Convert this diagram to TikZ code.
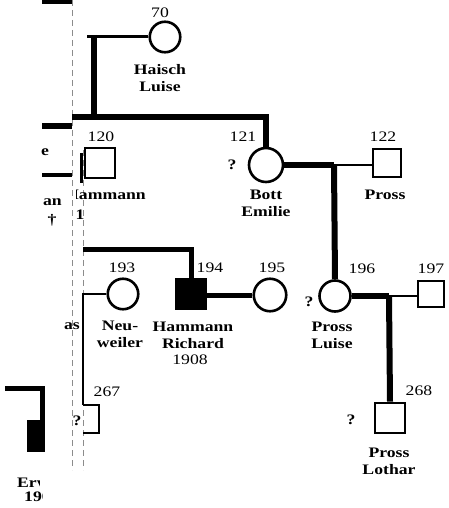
\documentclass[tikz,border=0pt]{standalone}
\usepackage{fontspec}
\setmainfont[FakeStretch=1.22]{Liberation Serif}
\begin{document}
\begin{tikzpicture}[x=1pt,y=-1pt,line join=miter,
  fem/.style={circle,draw,line width=2.6pt,inner sep=0pt},
  mal/.style={rectangle,draw,line width=2.4pt,inner sep=0pt},
  thk/.style={line width=6pt},
  mid/.style={line width=3pt},
  thn/.style={line width=2pt},
  fold/.style={line width=0.5pt,dash pattern=on 6pt off 4pt,black!45},
  num/.style={font=\fontsize{14.5}{16}\selectfont,inner sep=0pt},
  nm/.style={font=\fontsize{14.5}{17}\selectfont\bfseries,align=center,inner sep=0pt}]
\useasboundingbox (0,0) rectangle (448,508);
\clip (0,0) rectangle (448,508);
% fold lines of the scan
\draw[fold] (72,0) -- (72,470);
\draw[fold] (83,150) -- (83,470);
% individuals
\node[fem,minimum size=30.5pt] (c70) at (165,37) {};
\node[mal,minimum size=29.5pt] (s120) at (100,163) {};
\node[fem,minimum size=34pt] (c121) at (266,165) {};
\node[mal,minimum size=28.5pt] (s122) at (387,163) {};
\node[fem,minimum size=30.5pt] (c193) at (123,294) {};
\node[mal,fill=black,minimum size=30.5pt] (s194) at (191,294) {};
\node[fem,minimum size=32.5pt] (c195) at (270,295) {};
\node[fem,minimum size=31pt] (c196) at (335,296) {};
\node[mal,minimum size=26pt] (s197) at (431,294) {};
\node[mal,minimum size=30.5pt] (s268) at (390,418) {};
\begin{scope}
\clip (83,380) rectangle (130,460);
\node[mal,line width=2pt,minimum size=28pt] (s267) at (85,419) {};
\end{scope}
\begin{scope}
\clip (27,400) rectangle (60,470);
\node[mal,fill=black,minimum size=30pt] (ser) at (29,436) {};
\end{scope}
% connectors
\draw[mid] (c70.west) -- (87,37);
\draw[thk] (94,35) -- (94,117);
\draw[thk] (72,117) -| (c121.north);
\draw[thk] (42,1.5) -- (72,1.5);
\draw[thk] (42,126) -- (72,126);
\draw[line width=4pt] (42,175) -- (72,175);
\draw[line width=3pt] (81,153) -- (81,183);
\draw[line width=5pt] (83,249) -| (s194.north);
\draw[line width=5pt] (s194.east |- c195.west) -- (c195.west);
\draw[thn] (c193.west) -- (83,294) -- (83,405);
\coordinate (j1) at (334,165);
\draw[thk] (c121.east) -- (j1);
\draw[thn] (j1) -- (s122.west |- j1);
\draw[thk] (j1) -- (c196.north);
\coordinate (j2) at (389,296);
\draw[thk] (c196.east) -- (j2);
\draw[thn] (j2) -- (s197.west |- j2);
\draw[thk] (j2) -- (s268.north);
\draw[line width=5pt] (5,388) -- (42.5,388) -- (ser.north -| 42.5,0);
% labels
\node[num] (l70) at (160,13) {70};
\node[nm] (n70) at (160,78) {Haisch\\Luise};
\node[num] (l120) at (101,137) {120};
\node[num] (l121) at (243,137) {121};
\node[nm] (q121) at (232,165) {?};
\node[nm] (n121) at (266,203) {Bott\\Emilie};
\node[num] (l122) at (383,137) {122};
\node[nm] (n122) at (385,195) {Pross};
\node[num] (l193) at (122,268) {193};
\node[nm] (n193) at (120,334) {Neu-\\weiler};
\node[num] (l194) at (210,268) {194};
\node[nm] (n194) at (193,335) {Hammann\\Richard};
\node[num] (y194) at (190,360) {1908};
\node[num] (l195) at (272,268) {195};
\node[num] (l196) at (362,269) {196};
\node[nm] (q196) at (309,302) {?};
\node[nm] (n196) at (332,335) {Pross\\Luise};
\node[num] (l197) at (431,269) {197};
\node[num] (l267) at (107,392) {267};
\node[nm] (q267) at (77,421) {?};
\node[num] (l268) at (419,391) {268};
\node[nm] (q268) at (351,420) {?};
\node[nm] (n268) at (389,461) {Pross\\Lothar};
% cut-off fragments at the left edge
\node[nm] (fe) at (45,152) {e};
\begin{scope}
\clip (0,190) rectangle (70,230);
\node[nm,anchor=east] (fan) at (62,202) {an};
\end{scope}
\node[nm] (fdag) at (52,220) {†};
\begin{scope}
\clip (76,185) rectangle (160,225);
\node[nm,anchor=east] (fam) at (146,195) {Hammann};
\node[nm] (fone) at (80,215) {1};
\end{scope}
\begin{scope}
\clip (60,315) rectangle (80,335);
\node[nm,anchor=east] (fas) at (80,326) {as};
\end{scope}
\begin{scope}
\clip (0,470) rectangle (39,490);
\node[nm,anchor=west] (fer) at (17,483) {Erwin};
\end{scope}
\begin{scope}
\clip (0,490) rectangle (42,508);
\node[nm,anchor=west] (fyr) at (24,497) {1908};
\end{scope}
\end{tikzpicture}
\end{document}
